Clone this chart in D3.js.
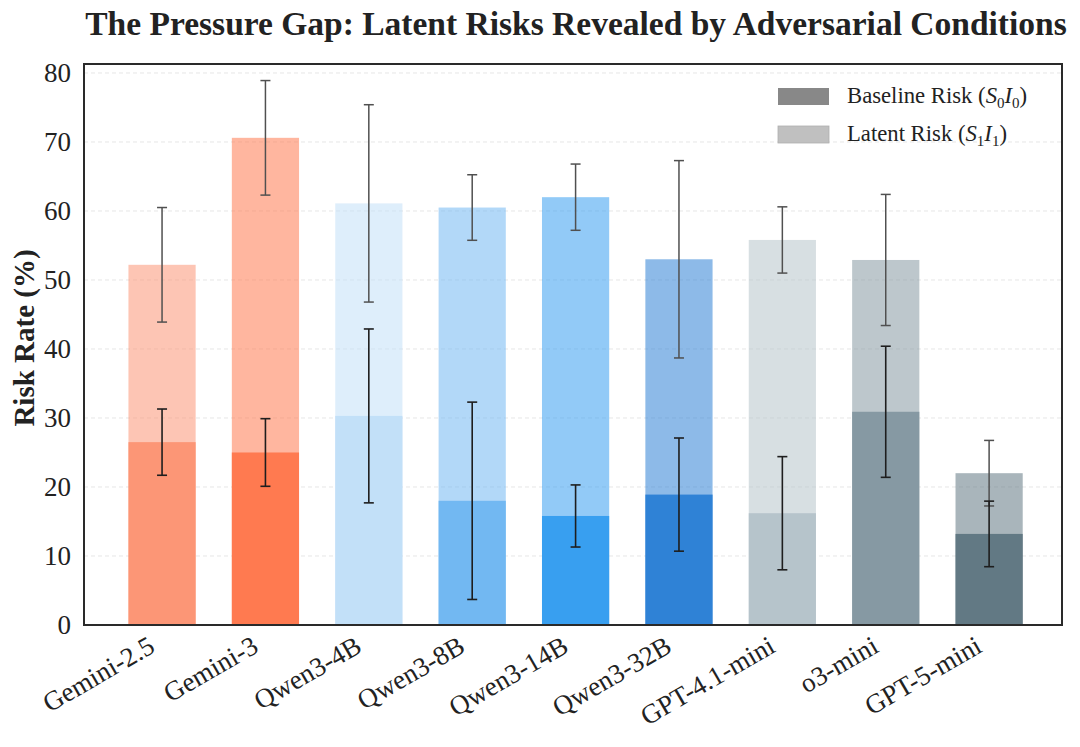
<!DOCTYPE html>
<html>
<head>
<meta charset="utf-8">
<script src="https://cdn.jsdelivr.net/npm/d3@7"></script>
<style>
  html, body { margin: 0; padding: 0; background: #fff; }
  svg { display: block; }
  text { font-family: "Liberation Serif", "DejaVu Serif", serif; fill: #222; }
</style>
</head>
<body>
<svg id="chart" width="1080" height="747"></svg>
<script>
// ---- data ----
const models = ["Gemini-2.5", "Gemini-3", "Qwen3-4B", "Qwen3-8B", "Qwen3-14B", "Qwen3-32B", "GPT-4.1-mini", "o3-mini", "GPT-5-mini"];
const baseline = [26.5, 25.0, 30.3, 18.0, 15.8, 18.9, 16.2, 30.9, 13.2];
const baselineErr = [4.8, 4.9, 12.6, 14.3, 4.5, 8.2, 8.2, 9.5, 4.75];
const latent = [52.2, 70.6, 61.1, 60.5, 62.0, 53.0, 55.8, 52.9, 22.0];
const latentErr = [8.3, 8.3, 14.3, 4.75, 4.8, 14.3, 4.8, 9.5, 4.75];
const yTicks = [0, 10, 20, 30, 40, 50, 60, 70, 80];

// ---- style ----
const baseColors = ["#fc9676", "#ff7a50", "#c2e0f8", "#72b8f2", "#389ff0", "#2f82d6", "#b6c4cb", "#8699a3", "#627984"];
const latentAlpha = 0.55;

const svg = d3.select("#chart");
const L = 84, R = 1062, T = 64, B = 625;

const x = d3.scaleLinear().domain([-0.755, 8.705]).range([L, R]);
const y = d3.scaleLinear().domain([0, 81.3]).range([B, T]);
const barW = x(0.65) - x(0);

// grid
svg.append("g").selectAll("line").data(yTicks).join("line")
  .attr("x1", L).attr("x2", R)
  .attr("y1", d => y(d)).attr("y2", d => y(d))
  .attr("stroke", "#e6e6e6").attr("stroke-width", 1)
  .attr("stroke-dasharray", "4,3");

const idx = d3.range(models.length);

// latent bars (from 0, semi-transparent)
svg.append("g").selectAll("rect").data(idx).join("rect")
  .attr("x", i => x(i) - barW / 2).attr("width", barW)
  .attr("y", i => y(latent[i])).attr("height", i => y(0) - y(latent[i]))
  .attr("fill", i => baseColors[i]).attr("fill-opacity", latentAlpha);

// baseline bars
svg.append("g").selectAll("rect").data(idx).join("rect")
  .attr("x", i => x(i) - barW / 2).attr("width", barW)
  .attr("y", i => y(baseline[i])).attr("height", i => y(0) - y(baseline[i]))
  .attr("fill", i => baseColors[i]);

// error bars
function errBars(vals, errs, color, sw) {
  const g = svg.append("g").attr("stroke", color).attr("stroke-width", sw);
  const cap = 5;
  idx.forEach(i => {
    const cx = x(i), y1 = y(vals[i] + errs[i]), y0 = y(vals[i] - errs[i]);
    g.append("line").attr("x1", cx).attr("x2", cx).attr("y1", y1).attr("y2", y0);
    g.append("line").attr("x1", cx - cap).attr("x2", cx + cap).attr("y1", y1).attr("y2", y1);
    g.append("line").attr("x1", cx - cap).attr("x2", cx + cap).attr("y1", y0).attr("y2", y0);
  });
}
errBars(latent, latentErr, "#505050", 1.5);
errBars(baseline, baselineErr, "#1e1e1e", 1.6);

// frame
svg.append("rect").attr("x", L).attr("y", T).attr("width", R - L).attr("height", B - T)
  .attr("fill", "none").attr("stroke", "#2a2a2a").attr("stroke-width", 2);

// y axis
const yAxis = d3.axisLeft(y).tickValues(yTicks).tickSize(0).tickPadding(13);
const ya = svg.append("g").attr("transform", `translate(${L},0)`).call(yAxis);
ya.select(".domain").remove();
ya.selectAll("text").style("font-size", "27px").style("font-family", "Liberation Serif").attr("fill", "#222");

// x axis
const xAxis = d3.axisBottom(x).tickValues(idx).tickFormat(i => models[i]).tickSize(0);
const xa = svg.append("g").attr("transform", `translate(0,${B})`).call(xAxis);
xa.select(".domain").remove();
xa.selectAll("text")
  .style("font-size", "27px").style("font-family", "Liberation Serif").attr("fill", "#222")
  .attr("text-anchor", "end")
  .attr("transform", "translate(-6,26) rotate(-30)")
  .attr("dy", 0).attr("y", 0).attr("x", 0);

// axis title
svg.append("text")
  .attr("transform", `translate(34,338) rotate(-90)`)
  .attr("text-anchor", "middle")
  .style("font-size", "29px").style("font-weight", "bold")
  .text("Risk Rate (%)");

// title
svg.append("text")
  .attr("x", 576).attr("y", 35)
  .attr("text-anchor", "middle")
  .style("font-size", "33.5px").style("font-weight", "bold")
  .text("The Pressure Gap: Latent Risks Revealed by Adversarial Conditions");

// legend
const leg = svg.append("g");
const legItems = [
  { color: "#888888", label: ["Baseline Risk (", "S", "0", "I", "0", ")"] },
  { color: "#c0c0c0", label: ["Latent Risk (", "S", "1", "I", "1", ")"] }
];
legItems.forEach((d, k) => {
  const yy = 96 + k * 38;
  leg.append("rect").attr("x", 778).attr("y", yy - 8).attr("width", 51).attr("height", 17)
    .attr("fill", d.color).attr("stroke", k === 1 ? "#b0b0b0" : "none").attr("stroke-width", 0.8);
  const t = leg.append("text").attr("x", 847).attr("y", yy + 7).style("font-size", "22.7px");
  t.append("tspan").text(d.label[0]);
  t.append("tspan").style("font-style", "italic").text(d.label[1]);
  t.append("tspan").attr("dy", 5).style("font-size", "15px").text(d.label[2]);
  t.append("tspan").attr("dy", -5).style("font-style", "italic").text(d.label[3]);
  t.append("tspan").attr("dy", 5).style("font-size", "15px").text(d.label[4]);
  t.append("tspan").attr("dy", -5).text(d.label[5]);
});
</script>
</body>
</html>
